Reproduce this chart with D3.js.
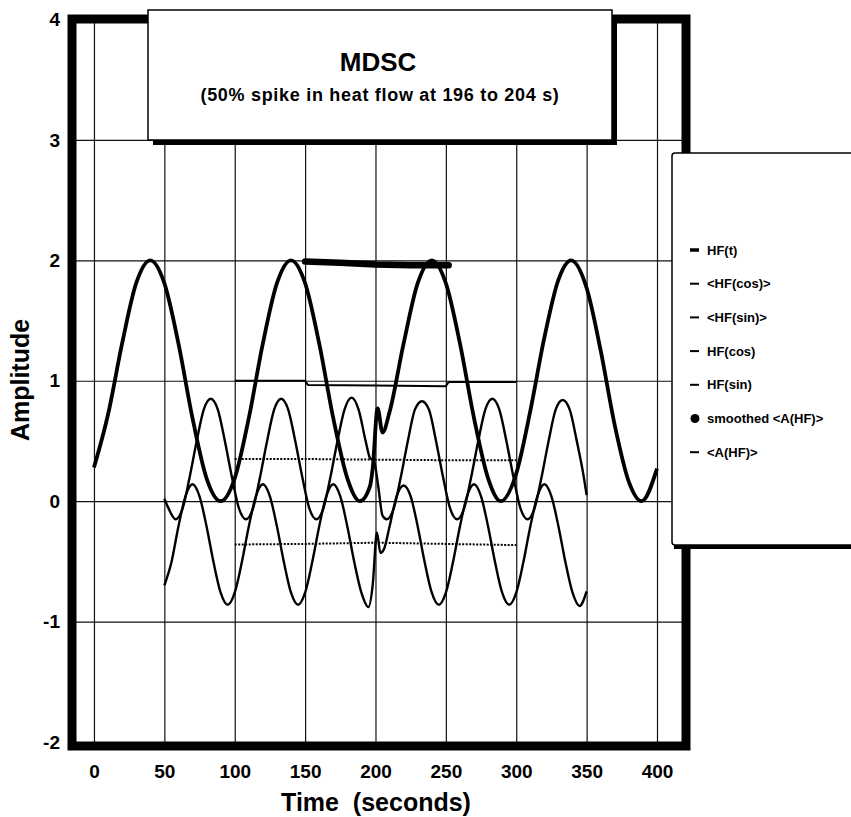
<!DOCTYPE html>
<html>
<head>
<meta charset="utf-8">
<script src="https://cdn.jsdelivr.net/npm/d3@7"></script>
<style>
  body { margin: 0; background: #fff; }
  svg { display: block; font-family: Arial, "Liberation Sans", sans-serif; font-weight: bold; }
</style>
</head>
<body>
<div id="chart"></div>
<script>
// tick values
const xTicks = [0, 50, 100, 150, 200, 250, 300, 350, 400];
const yTicks = [-2, -1, 0, 1, 2, 3, 4];

// HF(t) : modulated heat flow, [time, amplitude]
const hfT = [
  [0, 0.28], [10, 0.72], [20, 1.31], [30, 1.81], [40, 2.0], [50, 1.81], [60, 1.31], [70, 0.69],
  [80, 0.19], [90, 0.0], [100, 0.19], [110, 0.69], [120, 1.31], [130, 1.81], [140, 2.0], [150, 1.81],
  [160, 1.31], [170, 0.69], [180, 0.19], [189, 0.0], [196, 0.12], [198, 0.27], [201.5, 0.77],
  [205, 0.57], [210, 0.74], [220, 1.31], [230, 1.81], [240, 2.0], [250, 1.81], [260, 1.31],
  [270, 0.69], [280, 0.19], [289, 0.0], [300, 0.23], [310, 0.75], [320, 1.36], [330, 1.84],
  [339, 2.0], [350, 1.77], [360, 1.25], [370, 0.63], [380, 0.16], [389, 0.0], [400, 0.27]
];

// HF(sin) : upper double-frequency curve
const hfSin = [
  [50, 0.02], [53, -0.06], [58, -0.15], [63, -0.06], [68, 0.2], [73, 0.5], [78, 0.76], [83, 0.85],
  [88, 0.76], [93, 0.5], [98, 0.2], [103, -0.06], [108, -0.15], [113, -0.06], [118, 0.2], [123, 0.5],
  [128, 0.76], [133, 0.85], [138, 0.76], [143, 0.5], [148, 0.2], [153, -0.06], [158, -0.15],
  [163, -0.06], [168, 0.2], [173, 0.5], [178, 0.76], [183, 0.86], [188, 0.76], [193, 0.5],
  [196, 0.36], [199, 0.33], [202, 0.12], [205, -0.12], [208, -0.15], [213, -0.06], [218, 0.2],
  [223, 0.5], [228, 0.76], [233, 0.83], [238, 0.76], [243, 0.5], [248, 0.2], [253, -0.06],
  [258, -0.15], [263, -0.06], [268, 0.2], [273, 0.5], [278, 0.76], [283, 0.85], [288, 0.76],
  [293, 0.5], [298, 0.2], [303, -0.06], [308, -0.15], [313, -0.06], [318, 0.2], [323, 0.5],
  [328, 0.76], [333, 0.84], [338, 0.76], [343, 0.5], [348, 0.2], [350, 0.05]
];

// HF(cos) : lower double-frequency curve
const hfCos = [
  [50, -0.7], [55, -0.51], [60, -0.21], [65, 0.04], [70, 0.14], [75, 0.04], [80, -0.21], [85, -0.51],
  [90, -0.76], [95, -0.86], [100, -0.76], [105, -0.51], [110, -0.21], [115, 0.04], [120, 0.14],
  [125, 0.04], [130, -0.21], [135, -0.51], [140, -0.76], [145, -0.86], [150, -0.76], [155, -0.51],
  [160, -0.21], [165, 0.04], [170, 0.14], [175, 0.04], [180, -0.21], [185, -0.51], [190, -0.76],
  [195, -0.88], [198, -0.7], [201, -0.26], [203.5, -0.43], [206, -0.4], [210, -0.21], [215, 0.04],
  [220, 0.13], [225, 0.04], [230, -0.21], [235, -0.51], [240, -0.76], [245, -0.86], [250, -0.76],
  [255, -0.51], [260, -0.21], [265, 0.04], [270, 0.14], [275, 0.04], [280, -0.21], [285, -0.51],
  [290, -0.76], [295, -0.86], [300, -0.76], [305, -0.51], [310, -0.21], [315, 0.04], [320, 0.14],
  [325, 0.04], [330, -0.21], [335, -0.51], [340, -0.76], [345, -0.87], [350, -0.75]
];

// running averages
const avgSin = [[100, 0.35], [150, 0.35], [200, 0.345], [250, 0.34], [300, 0.34]];
const avgCos = [[100, -0.36], [150, -0.355], [200, -0.345], [250, -0.355], [300, -0.365]];
const avgA = [[100, 1.0], [150, 1.0], [152, 0.965], [200, 0.96], [250, 0.955], [252, 0.99], [300, 0.99]];
const smoothA = [[150, 1.99], [175, 1.98], [200, 1.965], [225, 1.96], [252, 1.96]];

const legendLabels = ['HF(t)', '<HF(cos)>', '<HF(sin)>', 'HF(cos)', 'HF(sin)', 'smoothed <A(HF)>', '<A(HF)>'];

const width = 851, height = 817;
const svg = d3.select('#chart').append('svg')
  .attr('width', width)
  .attr('height', height);

svg.append('rect').attr('width', width).attr('height', height).attr('fill', '#fff');

// scales: frame edges sit a bit outside 0 and 400
const x = d3.scaleLinear().domain([-15.6, 420.6]).range([72, 686]);
const y = d3.scaleLinear().domain([-2, 4]).range([742, 19.5]);
const frameTop = 19, frameBottom = 746, frameLeft = 72, frameRight = 686;

// vertical grid + x labels
const gx = svg.append('g')
  .attr('transform', `translate(0,${frameBottom})`)
  .call(d3.axisBottom(x).tickValues(xTicks).tickSize(-(frameBottom - frameTop)).tickPadding(19));
gx.select('.domain').remove();
gx.selectAll('line').attr('stroke', '#111').attr('stroke-width', 1.2);
gx.selectAll('text').attr('font-size', 19).attr('fill', '#000')
  .attr('font-family', 'Arial, "Liberation Sans", sans-serif').attr('font-weight', 'bold');

// horizontal grid + y labels
const gy = svg.append('g')
  .attr('transform', `translate(${frameLeft},0)`)
  .call(d3.axisLeft(y).tickValues(yTicks).tickFormat(d => String(d))
    .tickSize(-(frameRight - frameLeft)).tickPadding(12));
gy.select('.domain').remove();
gy.selectAll('line').attr('stroke', '#111').attr('stroke-width', 1.2);
gy.selectAll('text').attr('font-size', 19).attr('fill', '#000')
  .attr('font-family', 'Arial, "Liberation Sans", sans-serif').attr('font-weight', 'bold');

// thick plot frame
svg.append('rect')
  .attr('x', frameLeft).attr('y', frameTop)
  .attr('width', frameRight - frameLeft).attr('height', frameBottom - frameTop)
  .attr('fill', 'none').attr('stroke', '#000').attr('stroke-width', 9);

// curves
const line = d3.line().x(d => x(d[0])).y(d => y(d[1])).curve(d3.curveMonotoneX);
const flat = d3.line().x(d => x(d[0])).y(d => y(d[1]));

const plot = svg.append('g').attr('fill', 'none').attr('stroke', '#000').attr('stroke-linejoin', 'round');

plot.append('path').datum(avgA).attr('d', flat).attr('stroke-width', 2);
plot.append('path').datum(avgSin).attr('d', flat).attr('stroke-width', 2).attr('stroke-dasharray', '2,1.5');
plot.append('path').datum(avgCos).attr('d', flat).attr('stroke-width', 2).attr('stroke-dasharray', '2,1.5');
plot.append('path').datum(hfCos).attr('d', line).attr('stroke-width', 2.4);
plot.append('path').datum(hfSin).attr('d', line).attr('stroke-width', 2.4);
plot.append('path').datum(hfT).attr('d', line).attr('stroke-width', 3.8);
plot.append('path').datum(smoothA).attr('d', flat).attr('stroke-width', 6.5).attr('stroke-linecap', 'round');

// title box with drop shadow
const tb = { x: 148, y: 10, w: 464, h: 130 };
svg.append('rect').attr('x', tb.x + 5).attr('y', tb.y + 5).attr('width', tb.w).attr('height', tb.h).attr('fill', '#000');
svg.append('rect').attr('x', tb.x).attr('y', tb.y).attr('width', tb.w).attr('height', tb.h)
  .attr('fill', '#fff').attr('stroke', '#000').attr('stroke-width', 1.5);
svg.append('text').attr('x', 378).attr('y', 71).attr('text-anchor', 'middle')
  .attr('font-size', 26).text('MDSC');
svg.append('text').attr('x', 380).attr('y', 101).attr('text-anchor', 'middle')
  .attr('font-size', 18).attr('letter-spacing', 0.7).text('(50% spike in heat flow at 196 to 204 s)');

// axis titles
svg.append('text').attr('x', 376).attr('y', 811).attr('text-anchor', 'middle')
  .attr('font-size', 25).style('white-space', 'pre').text('Time  (seconds)');
svg.append('text').attr('transform', 'translate(29,380) rotate(-90)').attr('text-anchor', 'middle')
  .attr('font-size', 25).text('Amplitude');

// legend box
const lb = { x: 672, y: 153, w: 200, h: 392 };
svg.append('rect').attr('x', lb.x + 2).attr('y', lb.y + 4).attr('width', lb.w).attr('height', lb.h).attr('fill', '#000');
svg.append('rect').attr('x', lb.x).attr('y', lb.y).attr('width', lb.w).attr('height', lb.h).attr('rx', 3)
  .attr('fill', '#fff').attr('stroke', '#000').attr('stroke-width', 1.5);

const legend = svg.append('g').selectAll('g').data(legendLabels).enter().append('g')
  .attr('transform', (d, i) => `translate(690,${250 + i * 33.7})`);
legend.each(function (d, i) {
  const g = d3.select(this);
  if (i === 5) {
    g.append('circle').attr('cx', 5).attr('cy', 0).attr('r', 4.5).attr('fill', '#000');
  } else {
    g.append('line').attr('x1', 0).attr('x2', 9).attr('y1', 0).attr('y2', 0)
      .attr('stroke', '#000').attr('stroke-width', i === 0 ? 3.5 : 2);
  }
  g.append('text').attr('x', 17).attr('y', 0).attr('dy', '0.35em').attr('font-size', 13).text(d);
});
</script>
</body>
</html>
